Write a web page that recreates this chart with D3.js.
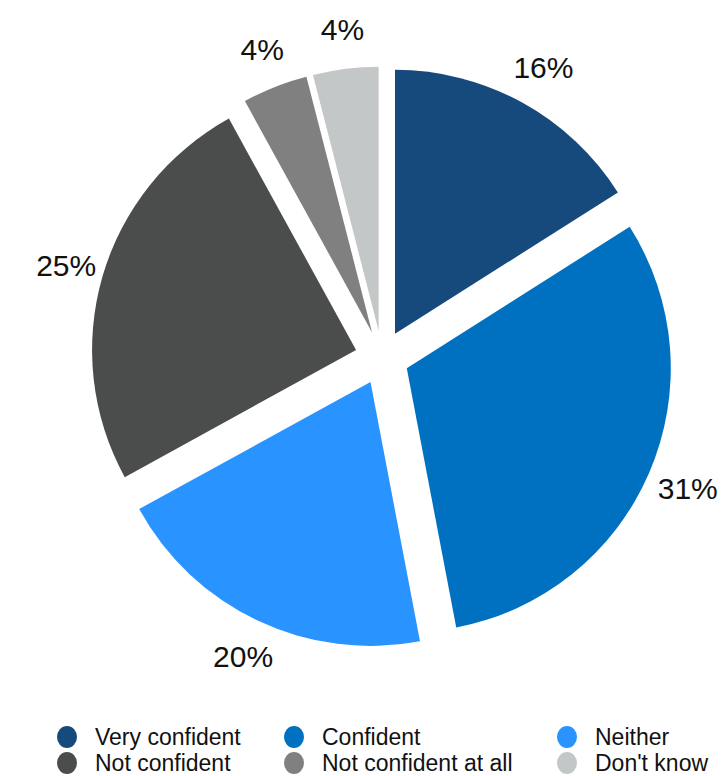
<!DOCTYPE html>
<html>
<head>
<meta charset="utf-8">
<script src="https://cdn.jsdelivr.net/npm/d3@7"></script>
<style>
  html, body { margin: 0; padding: 0; background: #ffffff; }
  svg { display: block; font-family: "Liberation Sans", Arial, sans-serif; }
</style>
</head>
<body>
<svg id="chart" width="723" height="776"></svg>
<script>
const categories = ["Very confident", "Confident", "Neither", "Not confident", "Not confident at all", "Don't know"];
const values = [16, 31, 20, 25, 4, 4];
const labels = ["16%", "31%", "20%", "25%", "4%", "4%"];
const colors = ["#174a7c", "#0070c0", "#2994ff", "#4b4c4c", "#7f807f", "#c4c7c8"];

const svg = d3.select("#chart");
const cx = 382, cy = 357.5, radius = 264, explode = 27, labelR = 331;

const pie = d3.pie().sort(null).value(d => d.value);
const arcs = pie(categories.map((c, i) => ({ name: c, value: values[i], label: labels[i], color: colors[i] })));
const arc = d3.arc().innerRadius(0).outerRadius(radius);

const g = svg.append("g").attr("transform", `translate(${cx},${cy})`);

g.selectAll("path").data(arcs).join("path")
  .attr("d", arc)
  .attr("fill", d => d.data.color)
  .attr("transform", d => {
    const a = (d.startAngle + d.endAngle) / 2;
    return `translate(${Math.sin(a) * explode},${-Math.cos(a) * explode})`;
  });

g.selectAll("text.lbl").data(arcs).join("text")
  .attr("class", "lbl")
  .attr("x", d => Math.sin((d.startAngle + d.endAngle) / 2) * labelR + 2)
  .attr("y", d => -Math.cos((d.startAngle + d.endAngle) / 2) * labelR)
  .attr("dy", "0.35em")
  .attr("text-anchor", "middle")
  .attr("font-size", 30)
  .attr("fill", "#111")
  .text(d => d.data.label);

// Legend
const colX = [67, 294, 567];
const rowY = [737, 763];
const lg = svg.append("g");
categories.forEach((name, k) => {
  const col = k % 3, row = Math.floor(k / 3);
  const item = lg.append("g").attr("transform", `translate(${colX[col]},${rowY[row]})`);
  item.append("ellipse").attr("rx", 10).attr("ry", 11).attr("fill", colors[k]);
  item.append("text").attr("x", 28).attr("dy", "0.35em")
    .attr("font-size", 23).attr("fill", "#111").text(name);
});
</script>
</body>
</html>
